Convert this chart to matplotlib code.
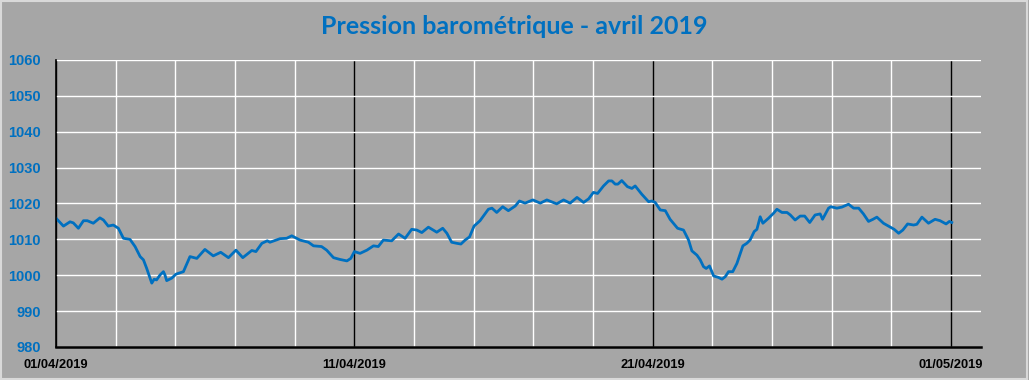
import numpy as np
import matplotlib
matplotlib.use("Agg")
import matplotlib.pyplot as plt
import matplotlib.dates as mdates
from matplotlib.patches import Rectangle

# ---- data (day offset from 01/04/2019 00:00, pressure hPa) ----
days = [0.00, 0.25, 0.47, 0.58, 0.75, 0.92, 1.05, 1.25, 1.47, 1.59, 1.75, 1.92,
        2.09, 2.26, 2.48, 2.65, 2.82, 2.93, 3.04, 3.21, 3.29, 3.37, 3.49, 3.60,
        3.65, 3.71, 3.88, 4.02, 4.27, 4.49, 4.72, 4.99, 5.27, 5.52, 5.78, 6.03,
        6.26, 6.56, 6.70, 6.90, 7.08, 7.17, 7.51, 7.73, 7.90, 8.18, 8.46, 8.63,
        8.90, 9.07, 9.30, 9.52, 9.75, 9.88, 10.00, 10.19, 10.42, 10.64, 10.80, 10.97,
        11.25, 11.48, 11.70, 11.92, 12.09, 12.26, 12.48, 12.76, 12.96, 13.10, 13.26, 13.43,
        13.57, 13.71, 13.86, 14.01, 14.21, 14.49, 14.61, 14.77, 14.97, 15.16, 15.39, 15.53,
        15.72, 15.98, 16.23, 16.45, 16.78, 17.01, 17.23, 17.46, 17.68, 17.85, 18.01, 18.15,
        18.35, 18.52, 18.63, 18.74, 18.83, 18.96, 19.15, 19.30, 19.41, 19.63, 19.86, 19.97,
        20.08, 20.25, 20.42, 20.58, 20.83, 21.03, 21.20, 21.31, 21.48, 21.59, 21.70, 21.79,
        21.90, 22.04, 22.20, 22.32, 22.43, 22.54, 22.68, 22.82, 23.02, 23.15, 23.26, 23.40,
        23.49, 23.60, 23.69, 23.88, 24.05, 24.16, 24.33, 24.50, 24.61, 24.77, 24.94, 25.09,
        25.26, 25.44, 25.61, 25.69, 25.89, 25.97, 26.17, 26.34, 26.56, 26.73, 26.90, 27.06,
        27.23, 27.38, 27.51, 27.73, 27.90, 28.09, 28.24, 28.38, 28.54, 28.74, 28.85, 29.02,
        29.24, 29.46, 29.63, 29.83, 29.94, 30.02]
pressure = [1015.9, 1013.7, 1014.9, 1014.6, 1013.1, 1015.2, 1015.2, 1014.5, 1016.0, 1015.4, 1013.7, 1014.0,
            1013.1, 1010.3, 1010.0, 1008.0, 1005.2, 1004.3, 1001.9, 997.8, 998.9, 998.7, 1000.1, 1001.0,
            1000.1, 998.5, 999.2, 1000.3, 1001.0, 1005.2, 1004.7, 1007.2, 1005.4, 1006.4, 1004.9, 1007.0,
            1004.9, 1006.9, 1006.6, 1008.9, 1009.6, 1009.2, 1010.2, 1010.3, 1011.0, 1009.8, 1009.2, 1008.2,
            1008.0, 1007.0, 1004.9, 1004.4, 1004.0, 1004.7, 1006.6, 1006.1, 1007.0, 1008.2, 1008.0, 1009.8,
            1009.6, 1011.5, 1010.3, 1012.8, 1012.6, 1011.9, 1013.4, 1012.0, 1013.1, 1011.7, 1009.2, 1008.9,
            1008.7, 1009.8, 1010.7, 1013.7, 1015.2, 1018.4, 1018.7, 1017.5, 1019.1, 1018.0, 1019.3, 1020.7,
            1020.1, 1021.0, 1020.1, 1021.0, 1019.9, 1021.0, 1020.1, 1021.7, 1020.3, 1021.3, 1023.1, 1022.8,
            1024.9, 1026.3, 1026.3, 1025.4, 1025.4, 1026.4, 1024.7, 1024.2, 1024.9, 1022.6, 1020.5, 1020.7,
            1020.3, 1018.2, 1018.0, 1015.6, 1013.1, 1012.6, 1009.8, 1006.8, 1005.6, 1004.3, 1002.4, 1001.9,
            1002.6, 999.8, 999.4, 998.9, 999.6, 1001.0, 1001.0, 1003.3, 1008.2, 1008.9, 1009.8, 1012.2,
            1012.8, 1016.3, 1014.5, 1015.9, 1017.3, 1018.4, 1017.5, 1017.5, 1016.8, 1015.4, 1016.5, 1016.5,
            1014.7, 1016.8, 1017.1, 1015.6, 1018.7, 1019.1, 1018.7, 1019.0, 1019.8, 1018.7, 1018.7, 1017.1,
            1015.0, 1015.6, 1016.2, 1014.5, 1013.7, 1012.8, 1011.7, 1012.6, 1014.3, 1014.0, 1014.2, 1016.2,
            1014.5, 1015.6, 1015.2, 1014.3, 1015.0, 1014.7]

title = "Pression barométrique - avril 2019"
y_ticks = [980, 990, 1000, 1010, 1020, 1030, 1040, 1050, 1060]

start = np.datetime64("2019-04-01T00:00")
times = start + (np.array(days) * 86400).astype("timedelta64[s]")

BG = "#A6A6A6"
BLUE = "#0070C0"

fig = plt.figure(figsize=(10.29, 3.80), dpi=100, facecolor=BG)
ax = fig.add_axes([56/1029, 1-347/380, (981-56)/1029, (347-60)/380])
ax.set_facecolor(BG)

ax.plot(times, pressure, color=BLUE, lw=2.0, zorder=3, solid_joinstyle="round")

ax.set_xlim(np.datetime64("2019-04-01"), np.datetime64("2019-05-02"))
ax.set_ylim(980, 1060)
ax.set_yticks(y_ticks)

ax.xaxis.set_major_locator(mdates.DayLocator(bymonthday=[1, 11, 21]))
ax.xaxis.set_major_formatter(mdates.DateFormatter("%d/%m/%Y"))
ax.xaxis.set_minor_locator(mdates.DayLocator(interval=2))

ax.grid(axis="y", color="white", lw=1.0, zorder=1)
ax.grid(axis="x", which="minor", color="white", lw=1.0, zorder=1)
ax.grid(axis="x", which="major", color="black", lw=1.0, zorder=2)

ax.tick_params(axis="both", which="both", length=0)
ax.tick_params(axis="y", pad=11, labelcolor=BLUE)
ax.tick_params(axis="x", pad=9, labelcolor="black")
for lab in ax.get_yticklabels():
    lab.set_fontfamily("Liberation Sans")
    lab.set_fontweight("bold")
    lab.set_fontsize(10.5)
for lab in ax.get_xticklabels():
    lab.set_fontfamily("Liberation Sans")
    lab.set_fontweight("bold")
    lab.set_fontsize(9.3)

for s in ["top", "right"]:
    ax.spines[s].set_visible(False)
ax.spines["left"].set_color("black")
ax.spines["left"].set_linewidth(1.2)
ax.spines["bottom"].set_color("black")
ax.spines["bottom"].set_linewidth(1.8)
ax.spines["left"].set_zorder(4)
ax.spines["bottom"].set_zorder(4)

fig.text(0.5, 1-27/380, title, ha="center", va="center", color=BLUE,
         fontsize=18, fontweight="bold", family="Lato")

fig.patches.append(Rectangle((0.001, 0.002), 0.997, 0.995, transform=fig.transFigure,
                             fill=False, edgecolor="#D9D9D9", lw=1.5))

fig.savefig("out.png", dpi=100, facecolor=BG)
